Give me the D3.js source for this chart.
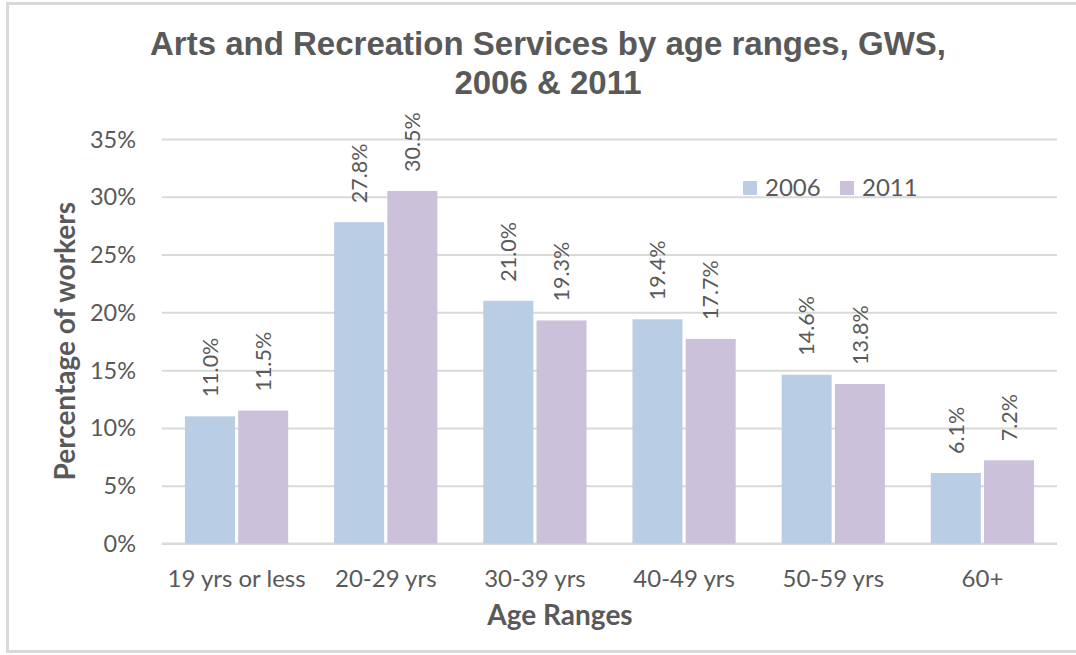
<!DOCTYPE html>
<html>
<head>
<meta charset="utf-8">
<script src="https://cdn.jsdelivr.net/npm/d3@7"></script>
<style>
  html, body { margin: 0; padding: 0; background: #fff; }
  svg { display: block; }
</style>
</head>
<body>
<svg id="chart" width="1076" height="655"></svg>
<script>
// Age ranges and the share of workers in each, per census year
const categories = ["19 yrs or less", "20-29 yrs", "30-39 yrs", "40-49 yrs", "50-59 yrs", "60+"];
const series = ["2006", "2011"];
const values2006 = [11.0, 27.8, 21.0, 19.4, 14.6, 6.1];
const values2011 = [11.5, 30.5, 19.3, 17.7, 13.8, 7.2];
const yTicks = [0, 5, 10, 15, 20, 25, 30, 35];
const titleLines = ["Arts and Recreation Services by age ranges, GWS,", "2006 & 2011"];

const colors = { "2006": "#B9CDE5", "2011": "#CCC1DA" };
const textColor = "#595959";
const bodyFont = "Lato, 'Open Sans', sans-serif";

const rows = categories.map((c, i) => ({ category: c, "2006": values2006[i], "2011": values2011[i] }));

const svg = d3.select("#chart");

// chart frame
svg.append("rect")
  .attr("x", 7.5).attr("y", 3.5)
  .attr("width", 1080).attr("height", 648)
  .attr("fill", "#fff")
  .attr("stroke", "#D9D9D9").attr("stroke-width", 3);

const plot = { left: 162, right: 1057, top: 139, bottom: 543.5 };

const x0 = d3.scaleBand()
  .domain(categories)
  .range([plot.left, plot.right])
  .paddingInner(0.308)
  .paddingOuter(0.154);

const x1 = d3.scaleBand()
  .domain(series)
  .range([0, x0.bandwidth()])
  .paddingInner(0.06);

const y = d3.scaleLinear()
  .domain([0, 35])
  .range([plot.bottom, plot.top]);

// horizontal gridlines and y tick labels
const yAxis = d3.axisLeft(y)
  .tickValues(yTicks)
  .tickSize(-(plot.right - plot.left))
  .tickPadding(26)
  .tickFormat(d => d + "%");

const gy = svg.append("g")
  .attr("transform", `translate(${plot.left},0)`)
  .call(yAxis);
gy.select(".domain").remove();
gy.selectAll(".tick line").attr("stroke", "#D9D9D9").attr("stroke-width", 2);
gy.selectAll(".tick text")
  .attr("fill", textColor)
  .attr("font-family", bodyFont)
  .attr("font-size", 23.5)
  .attr("dy", "0.34em");

// category axis
const xAxis = d3.axisBottom(x0).tickSize(0).tickPadding(0);
const gx = svg.append("g")
  .attr("transform", `translate(0,${plot.bottom})`)
  .call(xAxis);
gx.select(".domain").attr("stroke", "#D9D9D9").attr("stroke-width", 2)
  .attr("d", `M${plot.left},0H${plot.right}`);
gx.selectAll(".tick text")
  .attr("fill", textColor)
  .attr("font-family", bodyFont)
  .attr("font-size", 24)
  .attr("dy", null)
  .attr("y", 43.5);

// bars
const groups = svg.append("g").selectAll("g")
  .data(rows)
  .join("g")
  .attr("transform", d => `translate(${x0(d.category)},0)`);

groups.selectAll("rect")
  .data(d => series.map(s => ({ key: s, value: d[s] })))
  .join("rect")
  .attr("x", d => x1(d.key))
  .attr("y", d => y(d.value))
  .attr("width", x1.bandwidth())
  .attr("height", d => y(0) - y(d.value))
  .attr("fill", d => colors[d.key]);

// rotated value labels above each bar
groups.selectAll("text.value")
  .data(d => series.map(s => ({ key: s, value: d[s] })))
  .join("text")
  .attr("class", "value")
  .attr("transform", d => `translate(${x1(d.key) + x1.bandwidth() / 2},${y(d.value) - 19}) rotate(-90)`)
  .attr("dy", "0.36em")
  .attr("text-anchor", "start")
  .attr("fill", textColor)
  .attr("font-family", bodyFont)
  .attr("font-size", 21.5)
  .text(d => d.value.toFixed(1) + "%");

// title
svg.append("text")
  .attr("text-anchor", "middle")
  .attr("fill", textColor)
  .attr("font-family", "'Liberation Sans', Arial, sans-serif")
  .attr("font-weight", "bold")
  .attr("font-size", 33)
  .selectAll("tspan")
  .data(titleLines)
  .join("tspan")
  .attr("x", 548)
  .attr("y", (d, i) => 55 + i * 39)
  .text(d => d);

// axis titles
svg.append("text")
  .attr("x", 560).attr("y", 625)
  .attr("text-anchor", "middle")
  .attr("fill", textColor)
  .attr("font-family", bodyFont)
  .attr("font-weight", "bold")
  .attr("font-size", 28)
  .text("Age Ranges");

svg.append("text")
  .attr("transform", `translate(75,${(plot.top + plot.bottom) / 2}) rotate(-90)`)
  .attr("text-anchor", "middle")
  .attr("fill", textColor)
  .attr("font-family", bodyFont)
  .attr("font-weight", "bold")
  .attr("font-size", 28)
  .text("Percentage of workers");

// legend
const legend = svg.append("g").selectAll("g")
  .data(series)
  .join("g")
  .attr("transform", (d, i) => `translate(${743 + i * 97},181)`);
legend.append("rect")
  .attr("width", 14).attr("height", 14)
  .attr("fill", d => colors[d]);
legend.append("text")
  .attr("x", 22).attr("y", 15)
  .attr("fill", textColor)
  .attr("font-family", bodyFont)
  .attr("font-size", 24)
  .text(d => d);
</script>
</body>
</html>
